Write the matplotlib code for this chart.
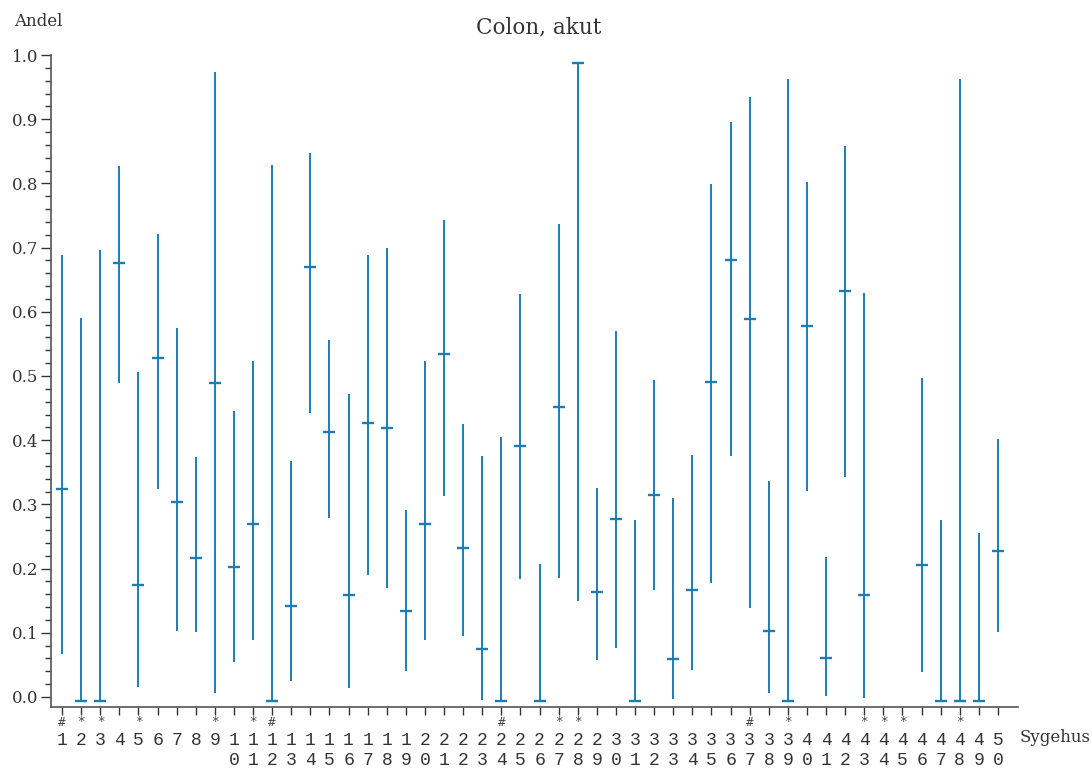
import numpy as np
import matplotlib
matplotlib.use("Agg")
import matplotlib.pyplot as plt
from matplotlib.ticker import MultipleLocator, FormatStrFormatter

# Sygehus 1..50, andel med konfidensinterval (NaN = ingen data)
hospitals = list(range(1, 51))
estimate = [0.324, -0.007, -0.007, 0.676, 0.174, 0.528, 0.304, 0.217, 0.489, 0.202,
            0.269, -0.007, 0.142, 0.670, 0.413, 0.159, 0.427, 0.419, 0.134, 0.269,
            0.534, 0.232, 0.075, -0.007, 0.391, -0.007, 0.452, 0.988, 0.164, 0.277,
            -0.007, 0.315, 0.059, 0.167, 0.491, 0.681, 0.589, 0.103, -0.007, 0.578,
            0.061, 0.632, 0.159, np.nan, np.nan, 0.206, -0.007, -0.007, -0.007, 0.227]
lower = [0.067, -0.007, -0.007, 0.489, 0.016, 0.324, 0.103, 0.101, 0.006, 0.055,
         0.089, -0.007, 0.025, 0.442, 0.279, 0.014, 0.190, 0.170, 0.040, 0.089,
         0.313, 0.095, -0.005, -0.007, 0.184, -0.007, 0.185, 0.150, 0.058, 0.076,
         -0.007, 0.167, -0.003, 0.042, 0.178, 0.375, 0.139, 0.006, -0.007, 0.321,
         0.002, 0.343, -0.002, np.nan, np.nan, 0.039, -0.007, -0.007, -0.007, 0.101]
upper = [0.688, 0.590, 0.696, 0.827, 0.506, 0.721, 0.575, 0.374, 0.974, 0.445,
         0.523, 0.829, 0.368, 0.847, 0.556, 0.472, 0.688, 0.699, 0.291, 0.523,
         0.743, 0.425, 0.375, 0.405, 0.628, 0.207, 0.737, 0.988, 0.326, 0.570,
         0.276, 0.494, 0.310, 0.377, 0.799, 0.896, 0.935, 0.336, 0.963, 0.802,
         0.218, 0.858, 0.629, np.nan, np.nan, 0.497, 0.276, 0.963, 0.255, 0.402]
flags = {1: "#", 2: "*", 3: "*", 5: "*", 9: "*", 11: "*", 12: "#", 24: "#",
         27: "*", 28: "*", 37: "#", 39: "*", 43: "*", 44: "*", 45: "*", 48: "*"}

COLOR = "#1a7db6"
TXT = "#333333"

fig = plt.figure(figsize=(10.92, 7.69), dpi=100)
ax = fig.add_axes([51 / 1092, 62 / 769, (1018 - 51) / 1092, (707 - 55) / 769])

ax.vlines(hospitals, lower, upper, color=COLOR, lw=1.4)
ax.plot(hospitals, estimate, ls="none", marker="_", ms=8, mew=1.7, color=COLOR)

ax.set_xlim(0.42, 51.05)
ax.set_ylim(-0.0156, 1.0)

for s in ["top", "right"]:
    ax.spines[s].set_visible(False)
for s in ["left", "bottom"]:
    ax.spines[s].set_color("#555555")
    ax.spines[s].set_linewidth(1.2)

ax.yaxis.set_major_locator(MultipleLocator(0.1))
ax.yaxis.set_minor_locator(MultipleLocator(0.02))
ax.yaxis.set_major_formatter(FormatStrFormatter("%.1f"))
ax.tick_params(axis="y", which="major", length=7, width=1, colors="#333333",
               labelsize=12, pad=2)
ax.tick_params(axis="y", which="minor", length=4, width=1, colors="#333333")
for lab in ax.get_yticklabels():
    lab.set_family("DejaVu Serif")

labels = [("%d" % h) if h < 10 else "%d\n%d" % (h // 10, h % 10) for h in hospitals]
ax.set_xticks(hospitals)
ax.set_xticklabels(labels, family="Liberation Mono", fontsize=13, color=TXT,
                   linespacing=1.2)
ax.tick_params(axis="x", length=6, width=1, colors="#333333", pad=12)

trans = ax.get_xaxis_transform()
for h, f in flags.items():
    ax.text(h, -15 / 652, f, transform=trans, ha="center", va="center",
            fontsize=9, color="#444444", family="DejaVu Sans Mono")

fig.text(539 / 1092, 1 - 27 / 769, "Colon, akut", ha="center", va="center",
         fontsize=15.5, color=TXT, family="DejaVu Serif")
fig.text(14 / 1092, 1 - 22 / 769, "Andel", ha="left", va="center",
         fontsize=12, color=TXT, family="DejaVu Serif")
fig.text(1020 / 1092, 1 - 738 / 769, "Sygehus", ha="left", va="center",
         fontsize=12, color=TXT, family="DejaVu Serif")

fig.savefig("out.png", dpi=100)
